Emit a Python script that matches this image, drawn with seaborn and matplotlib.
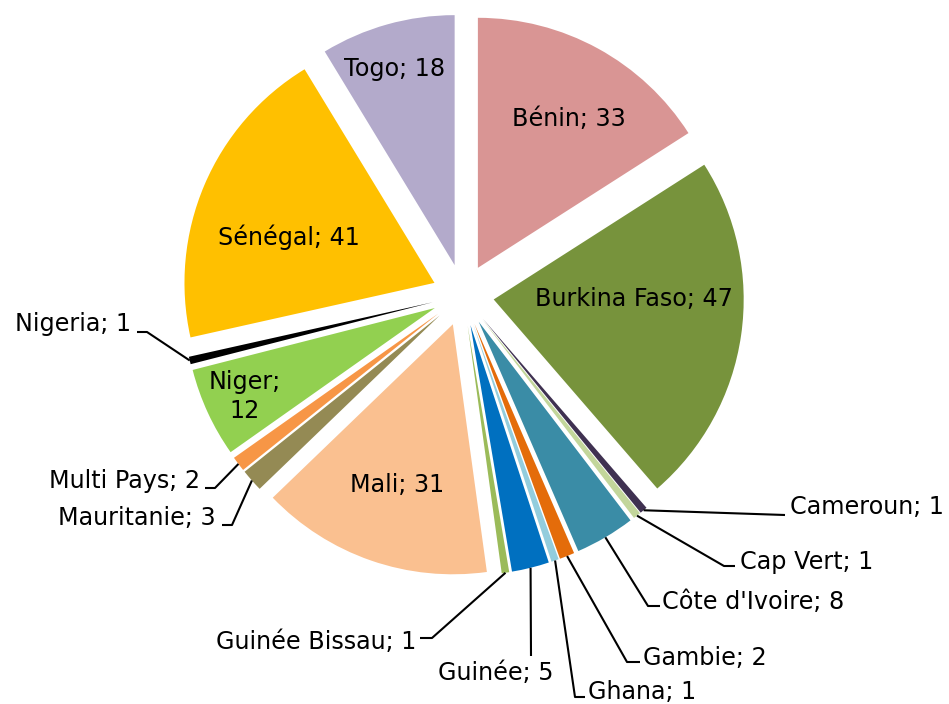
import numpy as np
import matplotlib.pyplot as plt
import seaborn as sns

countries = ["Bénin", "Burkina Faso", "Cameroun", "Cap Vert", "Côte d'Ivoire",
             "Gambie", "Ghana", "Guinée", "Guinée Bissau", "Mali", "Mauritanie",
             "Multi Pays", "Niger", "Nigeria", "Sénégal", "Togo"]
counts = [33, 47, 1, 1, 8, 2, 1, 5, 1, 31, 3, 2, 12, 1, 41, 18]
hex_colors = ["#D99594", "#77933C", "#3F3151", "#C3D69B", "#3A8CA6",
              "#E46C0A", "#93CDDD", "#0070C0", "#9BBB59", "#FAC090", "#948A54",
              "#F79646", "#92D050", "#000000", "#FFC000", "#B3AACB"]

sns.set_theme(style="white")
plt.rcParams['font.family'] = ['DejaVu Sans']
palette = sns.color_palette(hex_colors)

W, H = 949, 704
fig = plt.figure(figsize=(W / 100, H / 100), dpi=100)
ax = fig.add_axes([0, 0, 1, 1])

cx, cy, R = 463, H - 295, 250
off = 0.124 * R
wedges, _ = ax.pie(counts, colors=palette, startangle=90, counterclock=False,
                   center=(cx, cy), radius=R, explode=[off] * len(counts),
                   wedgeprops=dict(linewidth=0))
ax.set_xlim(0, W)
ax.set_ylim(0, H)
ax.set_aspect("equal")
ax.axis("off")

fs = 17.2

# inside labels: (radial fraction of R, angle in degrees, text)
inside = {
    "Bénin": (0.70, 58.5, "Bénin; 33"),
    "Burkina Faso": (0.56, 0.0, "Burkina Faso; 47"),
    "Sénégal": (0.61, 162.5, "Sénégal; 41"),
    "Togo": (0.82, 107.0, "Togo; 18"),
    "Mali": (0.68, -109.0, "Mali; 31"),
    "Niger": (0.84, -155.0, "Niger;\n12"),
}

# outside labels: elbow point, end of leader, text anchor, ha (image coords)
outside = {
    "Cameroun": [(785, 515), (785, 515), (790, 507), "left"],
    "Cap Vert": [(724, 566), (735, 566), (740, 562), "left"],
    "Côte d'Ivoire": [(648, 606), (660, 606), (662, 602), "left"],
    "Gambie": [(627, 662), (640, 662), (643, 658), "left"],
    "Ghana": [(575, 697), (585, 697), (588, 692), "left"],
    "Guinée": [(531, 656), (531, 656), (496, 673), "center"],
    "Guinée Bissau": [(432, 638), (420, 638), (416, 642), "right"],
    "Mauritanie": [(232, 525), (222, 525), (216, 518), "right"],
    "Multi Pays": [(215, 488), (205, 488), (200, 481), "right"],
    "Nigeria": [(147, 332), (137, 332), (131, 324), "right"],
}

for name, val, w in zip(countries, counts, wedges):
    tm = np.deg2rad((w.theta1 + w.theta2) / 2)
    ox, oy = w.center
    if name in inside:
        frac, ang, txt = inside[name]
        a = np.deg2rad(ang)
        ax.text(ox + frac * R * np.cos(a), oy + frac * R * np.sin(a), txt,
                ha="center", va="center", fontsize=fs, color="black",
                linespacing=1.25)
    else:
        (ex, ey), (lx, ly), (tx, ty), ha = outside[name]
        px, py = ox + R * np.cos(tm), oy + R * np.sin(tm)
        ax.plot([px, ex, lx], [py, H - ey, H - ly], color="black", lw=1.5,
                solid_capstyle="butt")
        ax.text(tx, H - ty, f"{name}; {val}", ha=ha, va="center",
                fontsize=fs, color="black")

fig.savefig("out.png", dpi=100)
